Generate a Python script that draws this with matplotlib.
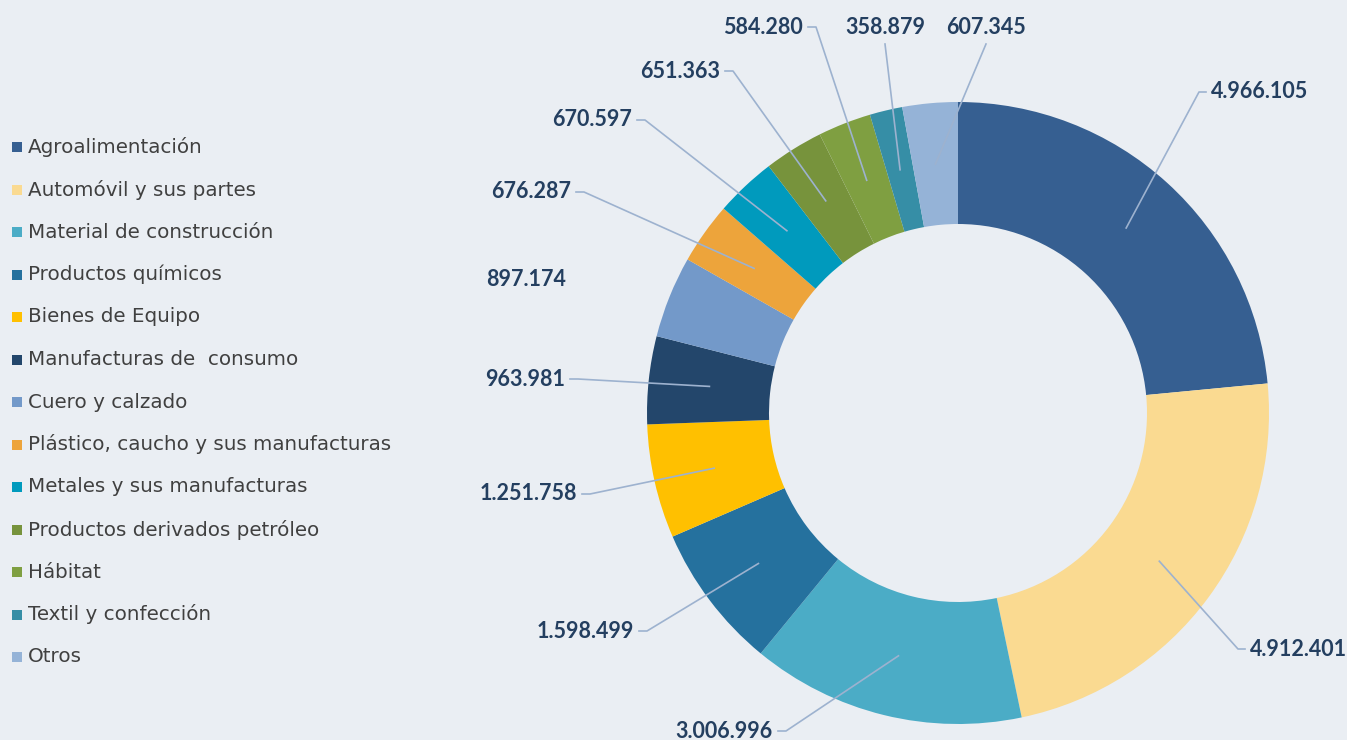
import matplotlib
matplotlib.use("Agg")
import matplotlib.pyplot as plt
import numpy as np
from matplotlib.patches import Rectangle

categories = ["Agroalimentación", "Automóvil y sus partes", "Material de construcción",
              "Productos químicos", "Bienes de Equipo", "Manufacturas de  consumo",
              "Cuero y calzado", "Plástico, caucho y sus manufacturas",
              "Metales y sus manufacturas", "Productos derivados petróleo",
              "Hábitat", "Textil y confección", "Otros"]
values = [4966105, 4912401, 3006996, 1598499, 1251758, 963981, 897174,
          676287, 670597, 651363, 584280, 358879, 607345]
value_labels = ["4.966.105", "4.912.401", "3.006.996", "1.598.499", "1.251.758",
                "963.981", "897.174", "676.287", "670.597", "651.363",
                "584.280", "358.879", "607.345"]
colors = ["#365F91", "#FADA91", "#4BACC6", "#25719E", "#FFC000", "#23466B",
          "#7399C9", "#EDA43B", "#009ABD", "#77933C", "#7F9F41", "#368EA6", "#95B3D7"]

# layout (pixel coords, y measured from top)
W, H = 1347, 740
BG = "#EAEEF3"
cx, cy, R, RIN = 958, 413, 311, 189
# label anchor: (x, y, ha, kind)  kind: 'L' tick right of text, 'R' tick left of text, 'T' below text, None
label_layout = [
    (1211, 92, "left", "R"),
    (1250, 649, "left", "R"),
    (773, 731, "right", "L"),
    (634, 631, "right", "L"),
    (577, 494, "right", "L"),
    (565, 379, "right", "L"),
    (566, 279, "right", None),
    (571, 192, "right", "L"),
    (632, 120, "right", "L"),
    (720, 71, "right", "L"),
    (803, 27, "right", "L"),
    (885, 27, "center", "T"),
    (986, 27, "center", "T"),
]

fig = plt.figure(figsize=(W / 100, H / 100), dpi=100, facecolor=BG)
ax = fig.add_axes([0, 0, 1, 1])
ax.set_facecolor(BG)

def Y(y):
    return H - y

wedges, _ = ax.pie(values, colors=colors, startangle=90, counterclock=False,
                   radius=R, center=(cx, Y(cy)),
                   wedgeprops=dict(width=R - RIN, linewidth=0))
ax.set_xlim(0, W)
ax.set_ylim(0, H)
ax.set_aspect("equal", adjustable="box")
ax.axis("off")

line_col = "#9DB2CF"
rmid = (R + RIN) / 2
for w, lab, (tx, ty, ha, kind) in zip(wedges, value_labels, label_layout):
    ang = np.deg2rad((w.theta1 + w.theta2) / 2)
    px, py = cx + rmid * np.cos(ang), Y(cy) + rmid * np.sin(ang)
    ax.text(tx, Y(ty), lab, ha=ha, va="center", fontsize=15.5, fontweight="bold",
            color="#243F60", family="Lato")
    if kind == "R":
        ax.plot([px, tx - 12, tx - 5], [py, Y(ty), Y(ty)], color=line_col, lw=1.2)
    elif kind == "L":
        ax.plot([px, tx + 13, tx + 5], [py, Y(ty), Y(ty)], color=line_col, lw=1.2)
    elif kind == "T":
        ax.plot([px, tx], [py, Y(ty + 17)], color=line_col, lw=1.2)

# legend
ly0, dly = 147, 42.5
for i, (cat, col) in enumerate(zip(categories, colors)):
    yy = Y(ly0 + i * dly)
    ax.add_patch(Rectangle((12, yy - 5), 10, 10, facecolor=col, edgecolor="none"))
    ax.text(28, yy, cat, ha="left", va="center", fontsize=14.3, color="#404040",
            family="DejaVu Sans")

fig.savefig("out.png", dpi=100, facecolor=BG)
